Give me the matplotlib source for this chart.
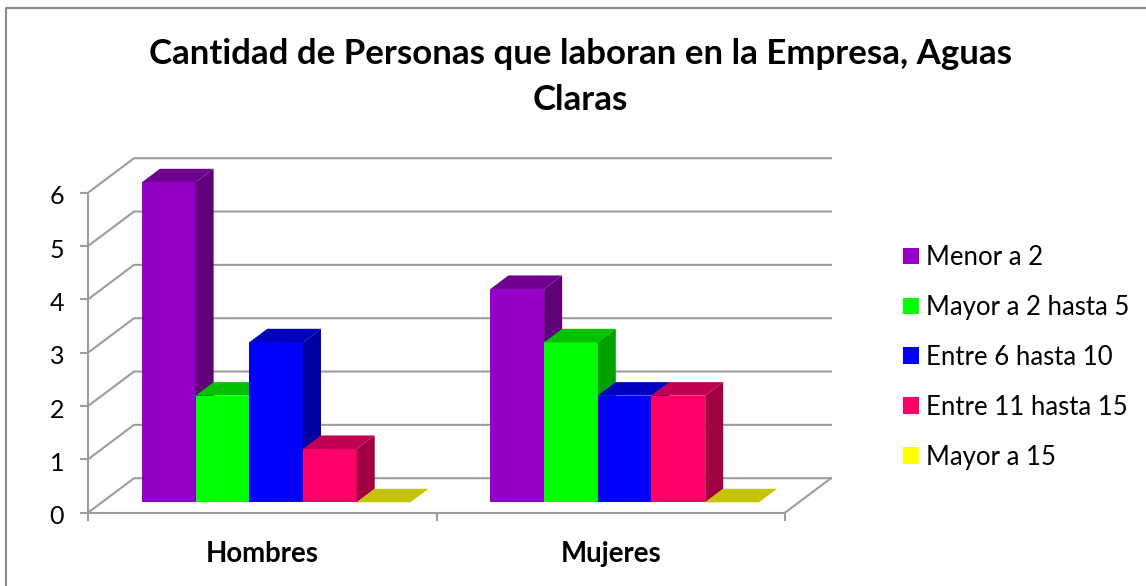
import matplotlib
matplotlib.use("Agg")
import matplotlib.pyplot as plt
from matplotlib.lines import Line2D
from matplotlib.patches import Polygon
from matplotlib.transforms import ScaledTranslation

plt.rcParams['font.family'] = ['Lato', 'DejaVu Sans']

categories = ["Hombres", "Mujeres"]
series = ["Menor a 2", "Mayor a 2 hasta 5", "Entre 6 hasta 10", "Entre 11 hasta 15", "Mayor a 15"]
values = [
    [6, 4],
    [2, 3],
    [3, 2],
    [1, 2],
    [0, 0],
]
front_colors = ["#9400C8", "#00FF00", "#0000FF", "#FF0066", "#FFFF00"]
top_colors = ["#70008F", "#00C000", "#0000C0", "#C00050", "#C4C400"]
side_colors = ["#5F0078", "#00A000", "#0000A0", "#A00040", "#A0A000"]
y_ticks = [0, 1, 2, 3, 4, 5, 6]
title = "Cantidad de Personas que laboran en la Empresa, Aguas\nClaras"

W, H = 1146, 586
GRID = "#9C9C9C"
fig = plt.figure(figsize=(W / 100, H / 100), dpi=100, facecolor="white")

x0, x1, y0, y6 = 88.0, 785.0, 512.7, 192.7
ax = fig.add_axes([x0 / W, 1 - y0 / H, (x1 - x0) / W, (y0 - y6) / H])
ax.set_xlim(0, 2)
ax.set_ylim(0, 6)
ax.patch.set_visible(False)

px_x = (x1 - x0) / 2
px_y = (y0 - y6) / 6
wall_dx, wall_dy = 46 / px_x, 34.5 / px_y
floor_dx, floor_dy = 13.9 / px_x, 10.4 / px_y
bar_dx, bar_dy = 18 / px_x, 13.5 / px_y
bar_w = 53.7 / px_x

for s in ("top", "right"):
    ax.spines[s].set_visible(False)
for s in ("left", "bottom"):
    ax.spines[s].set_color(GRID)
    ax.spines[s].set_linewidth(1.5)

ax.set_yticks(y_ticks)
ax.set_xticks([0, 1, 2])
ax.set_xticklabels([])
ax.set_xticks([0.5, 1.5], labels=categories, minor=True)
ax.tick_params(axis="y", length=5.8, width=1.5, color=GRID, labelsize=18, pad=11.5, labelcolor="black")
ax.tick_params(axis="x", which="major", length=6, width=1.5, color=GRID)
ax.tick_params(axis="x", which="minor", length=0, pad=20.5, labelsize=19.9)
for t in ax.get_xminorticklabels():
    t.set_fontweight("bold")
shift = ScaledTranslation(0, -2 / 100, fig.dpi_scale_trans)
for t in ax.get_yticklabels():
    t.set_transform(t.get_transform() + shift)

# back wall grid and diagonals
for v in y_ticks:
    ax.add_line(Line2D([0, wall_dx, 2 + wall_dx], [v, v + wall_dy, v + wall_dy], color=GRID, lw=1.5,
                       clip_on=False, zorder=1))
ax.add_line(Line2D([2, 2 + wall_dx], [0, wall_dy], color=GRID, lw=1.5, clip_on=False, zorder=1))

# bars, drawn left to right so each front hides the previous side
z = 3
n = len(series)
for c, cat in enumerate(categories):
    start = c + 0.5 - n * bar_w / 2 + floor_dx
    for i in range(n):
        v = values[i][c]
        l = start + i * bar_w
        r = l + bar_w
        b = floor_dy
        t = floor_dy + v
        ax.bar(l, v, width=bar_w, bottom=b, align="edge", color=front_colors[i], clip_on=False, zorder=z,
               label=series[i] if c == 0 else None)
        ax.add_patch(Polygon([(r, b), (r + bar_dx, b + bar_dy), (r + bar_dx, t + bar_dy), (r, t)],
                             facecolor=side_colors[i], edgecolor="none", clip_on=False, zorder=z))
        ax.add_patch(Polygon([(l, t), (l + bar_dx, t + bar_dy), (r + bar_dx, t + bar_dy), (r, t)],
                             facecolor=top_colors[i], edgecolor="none", clip_on=False, zorder=z))
        z += 1

fig.text(580 / W, 1 - 77 / H, title, ha="center", va="center", fontsize=25.1, fontweight="bold",
         linespacing=1.53, color="black")

ax.legend(loc="upper left", bbox_to_anchor=(903 / W, 1 - 245 / H), bbox_transform=fig.transFigure,
          frameon=False, fontsize=18.5, borderaxespad=0, borderpad=0, handlelength=0.62, handleheight=0.62,
          handletextpad=0.27, labelspacing=0.97)

# chart frame: left and top edges only
fig.add_artist(Line2D([5.5 / W, 5.5 / W, 1], [0, 1 - 8 / H, 1 - 8 / H], color="#888888", lw=1.5))

fig.savefig("out.png", dpi=100)
